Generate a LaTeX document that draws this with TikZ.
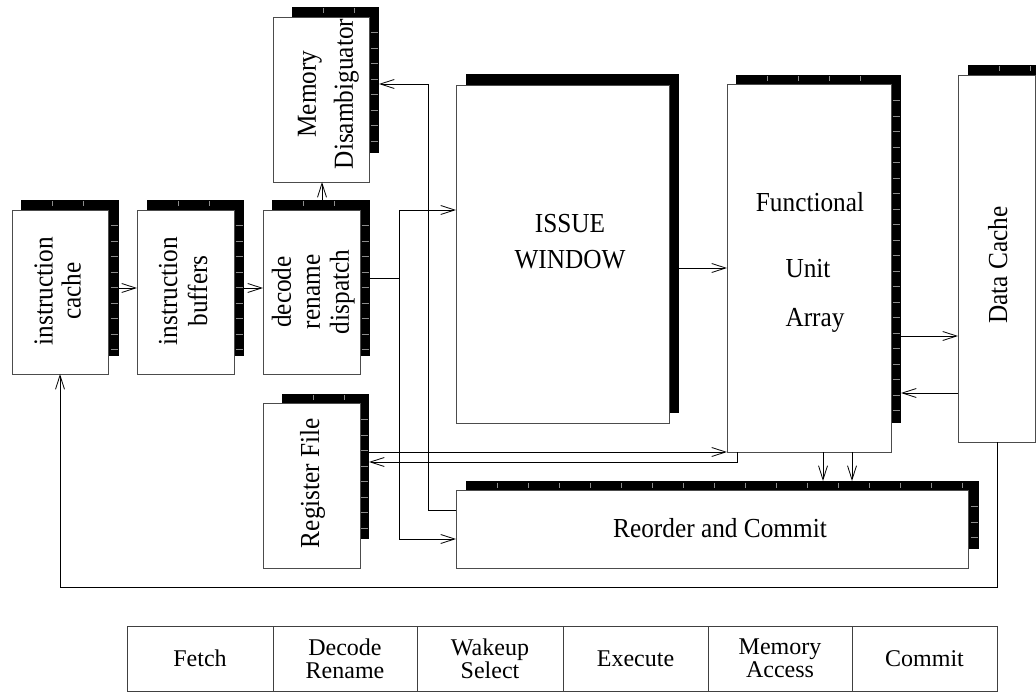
\documentclass[tikz,border=0pt]{standalone}
\usepackage{fontspec}
\usepackage{graphicx}
\setmainfont{Liberation Serif}
\usetikzlibrary{arrows.meta,calc}
\newcommand\shadticks[4]{% x1 y1 x2 y2 of the shadow
  \pgfmathsetmacro\nxt{int((#3-#1-12)/31)}
  \foreach \k in {1,...,\nxt} {\draw[tickline] ({#1+31*\k},{#2+1.5}) -- ++(0,5);}
  \pgfmathsetmacro\nyt{int((#4-#2-14)/15.5)}
  \foreach \k in {1,...,\nyt} {\draw[tickline] ({#3-8.5},{#2+10+15.5*\k}) -- ++(7,0);}
}
% narrow, tall lettering as in the reference; #1 = line spacing, #2 = lines
\newcommand\narrow[2]{\fontsize{27.5}{#1}\selectfont\scalebox{0.92}[1]{\begin{tabular}{@{}c@{}}#2\end{tabular}}}
\begin{document}
\begin{tikzpicture}[x=1pt,y=-1pt,
  shad/.style={fill=black, draw=none, inner sep=0pt, outer sep=0pt, anchor=north west},
  front/.style={fill=white, draw=black!70, line width=0.8pt, inner sep=0pt, outer sep=0pt, anchor=north west},
  tickline/.style={draw=black!45, line width=0.5pt},
  arr/.style={draw=black, line width=0.8pt, -{Straight Barb[length=14pt,width=9pt]}},
  conn/.style={draw=black, line width=0.8pt},
  lbl/.style={inner sep=0pt, align=center},
  vlbl/.style={lbl, rotate=90},
  cell/.style={draw=black!75, line width=0.8pt, inner sep=0pt, outer sep=0pt, anchor=north west,
    minimum height=65pt, align=center, font=\fontsize{24}{23}\selectfont}]
\clip (0,0) rectangle (1036,692);
\fill[white] (0,0) rectangle (1036,692);

% ---------- shadows ----------
\node[shad, minimum width=98pt, minimum height=156pt] (ics) at (21,200) {};
\shadticks{21}{200}{119}{356}
\node[shad, minimum width=97pt, minimum height=156pt] (ibs) at (147,200) {};
\shadticks{147}{200}{244}{356}
\node[shad, minimum width=98pt, minimum height=156pt] (decs) at (272,200) {};
\shadticks{272}{200}{370}{356}
\node[shad, minimum width=87pt, minimum height=146pt] (mds) at (292,7) {};
\shadticks{292}{7}{379}{153}
\node[shad, minimum width=87pt, minimum height=145pt] (rfs) at (282,394) {};
\shadticks{282}{394}{369}{539}
\node[shad, minimum width=213pt, minimum height=339pt] (iws) at (466,74) {};
\node[shad, minimum width=165pt, minimum height=348pt] (fus) at (736,75) {};
\shadticks{736}{75}{901}{423}
\node[shad, minimum width=78pt, minimum height=360pt] (dcs) at (968,65) {};
\shadticks{968}{65}{1046}{425}
\node[shad, minimum width=513pt, minimum height=68pt] (rcs) at (466,481) {};
\shadticks{466}{481}{979}{549}

% ---------- front boxes ----------
\node[front, minimum width=96pt, minimum height=164pt] (ic) at (12,210) {};
\node[front, minimum width=97pt, minimum height=164pt] (ib) at (137,210) {};
\node[front, minimum width=97pt, minimum height=164pt] (dec) at (263,210) {};
\node[front, minimum width=96pt, minimum height=165pt] (md) at (273,17) {};
\node[front, minimum width=97pt, minimum height=165pt] (rf) at (263,403) {};
\node[front, minimum width=213pt, minimum height=338pt] (iw) at (456,85) {};
\node[front, minimum width=164pt, minimum height=368pt] (fu) at (727,84) {};
\node[front, minimum width=77.5pt, minimum height=367pt] (dc) at (958,75) {};
\node[front, minimum width=512pt, minimum height=78pt] (rc) at (456,490) {};

% ---------- labels ----------
\node[vlbl] (ict) at (61,291) {\narrow{28}{instruction\\cache}};
\node[vlbl] (ibt) at (186,291) {\narrow{30}{instruction\\buffers}};
\node[vlbl] (dect) at (314,292) {\narrow{29}{decode\\rename\\dispatch}};
\node[vlbl] (mdt) at (327,94) {\narrow{37}{Memory\\Disambiguator}};
\node[vlbl] (rft) at (313,483) {\narrow{30}{Register File}};
\node[vlbl] (dct) at (1001,265) {\narrow{30}{Data Cache}};
\node[lbl] (iwt) at (570,243) {\narrow{36}{ISSUE\\WINDOW}};
\node[lbl, anchor=base] (fut1) at (810,212) {\fontsize{27.5}{30}\selectfont\scalebox{0.92}[1]{Functional}};
\node[lbl, anchor=base] (fut2) at (808,278) {\fontsize{27.5}{30}\selectfont\scalebox{0.92}[1]{Unit}};
\node[lbl, anchor=base] (fut3) at (815,327) {\fontsize{27.5}{30}\selectfont\scalebox{0.92}[1]{Array}};
\node[lbl, anchor=base] (rct) at (720,537) {\fontsize{27.5}{30}\selectfont\scalebox{0.92}[1]{Reorder and Commit}};

% ---------- connectors ----------
\draw[arr] (ics.east |- 0,288) -- (ib.west |- 0,288);
\draw[arr] (ibs.east |- 0,288) -- (dec.west |- 0,288);
\draw[arr] (decs.north -| 322,0) -- (md.south -| 322,0);
\coordinate (trunk) at (399,278);
\draw[conn] (decs.east |- trunk) -- (trunk);
\draw[arr] (trunk) |- (iw.west |- 0,210);
\draw[arr] (trunk) |- (rc.west |- 0,539);
\coordinate (mdturn) at (428,84);
\draw[arr] (rc.west |- 0,510) -| (mdturn) -- (mds.east |- mdturn);
\draw[arr] (iws.east |- 0,268) -- (fu.west |- 0,268);
\draw[arr] (fus.east |- 0,336) -- (dc.west |- 0,336);
\draw[arr] (dc.west |- 0,393) -- (fus.east |- 0,393);
\draw[arr] (rfs.east |- 0,452) -- (fu.south west);
\coordinate (rfturn) at (737,462);
\draw[arr] (fu.south -| rfturn) -- (rfturn) -- (rfs.east |- rfturn);
\draw[arr] (fu.south -| 823,0) -- (rcs.north -| 823,0);
\draw[arr] (fu.south -| 852,0) -- (rcs.north -| 852,0);
\coordinate (fbturn) at (60,587);
\draw[arr] (dc.south -| 997,0) |- (fbturn) -- (ic.south -| fbturn);

% ---------- stage table ----------
\node[cell, minimum width=146pt] (s1) at (127,626) {Fetch};
\node[cell, minimum width=144pt] (s2) at (273,626) {Decode\\Rename};
\node[cell, minimum width=146pt] (s3) at (417,626) {Wakeup\\Select};
\node[cell, minimum width=145pt] (s4) at (563,626) {Execute};
\node[cell, minimum width=144pt] (s5) at (708,626) {Memory\\Access};
\node[cell, minimum width=145pt] (s6) at (852,626) {Commit};
\end{tikzpicture}
\end{document}
